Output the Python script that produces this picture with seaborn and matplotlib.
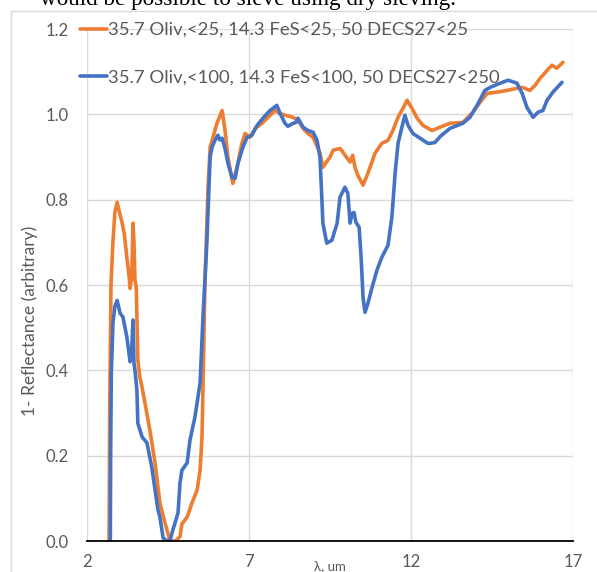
import numpy as np
import pandas as pd
import seaborn as sns
import matplotlib.pyplot as plt
from matplotlib.patches import Rectangle
from matplotlib.ticker import MultipleLocator, FixedLocator, FormatStrFormatter

# series
fine_label = '35.7 Oliv,<25, 14.3 FeS<25, 50 DECS27<25'
coarse_label = '35.7 Oliv,<100, 14.3 FeS<100, 50 DECS27<250'

fine_x = [2.68, 2.70, 2.74, 2.80, 2.86, 2.93, 3.00, 3.08, 3.15, 3.23, 3.30, 3.33, 3.38, 3.42,
          3.45, 3.48, 3.52, 3.57, 3.63, 3.70, 3.79, 3.94, 4.10, 4.25, 4.41, 4.56, 4.72, 4.87,
          4.93, 5.09, 5.24, 5.40, 5.49, 5.55, 5.58, 5.64, 5.70, 5.73, 5.80, 5.89, 6.01, 6.17,
          6.26, 6.35, 6.48, 6.50, 6.63, 6.78, 6.88, 7.03, 7.19, 7.40, 7.59, 7.80, 7.96, 8.11,
          8.36, 8.51, 8.67, 8.82, 8.98, 9.13, 9.19, 9.28, 9.50, 9.60, 9.81, 9.90, 10.12, 10.20,
          10.27, 10.36, 10.52, 10.67, 10.89, 11.10, 11.29, 11.44, 11.60, 11.75, 11.88, 12.03,
          12.19, 12.37, 12.65, 12.90, 13.20, 13.60, 13.91, 14.13, 14.35, 14.65, 14.96, 15.27,
          15.45, 15.67, 15.83, 15.98, 16.20, 16.35, 16.50, 16.69]
fine_y = [0.0, 0.30, 0.60, 0.70, 0.77, 0.794, 0.77, 0.747, 0.72, 0.665, 0.62, 0.592, 0.62, 0.745,
          0.70, 0.611, 0.595, 0.424, 0.384, 0.36, 0.323, 0.26, 0.183, 0.089, 0.042, 0.0, 0.0, 0.01,
          0.04, 0.056, 0.089, 0.12, 0.166, 0.244, 0.36, 0.604, 0.745, 0.82, 0.923, 0.946, 0.979, 1.009,
          0.962, 0.90, 0.845, 0.838, 0.876, 0.932, 0.955, 0.946, 0.967, 0.979, 0.993, 1.009, 1.002, 0.998,
          0.993, 0.986, 0.967, 0.955, 0.946, 0.92, 0.909, 0.876, 0.90, 0.916, 0.92, 0.911, 0.888, 0.904,
          0.876, 0.857, 0.834, 0.862, 0.909, 0.932, 0.939, 0.962, 0.993, 1.014, 1.033, 1.014,
          0.991, 0.974, 0.962, 0.970, 0.979, 0.981, 1.005, 1.028, 1.049, 1.052, 1.056, 1.061,
          1.063, 1.056, 1.068, 1.084, 1.103, 1.115, 1.108, 1.122]

coarse_x = [2.72, 2.73, 2.75, 2.80, 2.86, 2.93, 3.02, 3.11, 3.23, 3.33, 3.38, 3.42, 3.45, 3.48,
            3.54, 3.57, 3.70, 3.85, 4.00, 4.10, 4.19, 4.25, 4.35, 4.47, 4.56, 4.65, 4.81, 4.87,
            4.93, 5.09, 5.18, 5.33, 5.49, 5.58, 5.70, 5.75, 5.80, 5.86, 5.95, 6.04, 6.10, 6.17,
            6.26, 6.35, 6.48, 6.57, 6.66, 6.81, 6.94, 7.09, 7.25, 7.43, 7.65, 7.86, 7.96, 8.11,
            8.20, 8.36, 8.45, 8.51, 8.67, 8.82, 8.98, 9.10, 9.19, 9.25, 9.28, 9.40, 9.56, 9.72,
            9.81, 9.96, 10.05, 10.12, 10.18, 10.24, 10.30, 10.40, 10.46, 10.52, 10.58, 10.67,
            10.80, 10.95, 11.10, 11.29, 11.41, 11.51, 11.60, 11.72, 11.81, 11.91, 12.06, 12.28,
            12.52, 12.59, 12.74, 12.90, 13.20, 13.60, 13.82, 14.04, 14.28, 14.44, 14.75, 15.00,
            15.27, 15.43, 15.58, 15.77, 15.92, 16.07, 16.20, 16.38, 16.66]
coarse_y = [0.0, 0.20, 0.393, 0.51, 0.55, 0.564, 0.534, 0.525, 0.478, 0.42, 0.45, 0.518, 0.417, 0.40,
            0.354, 0.276, 0.244, 0.23, 0.173, 0.12, 0.073, 0.056, 0.007, 0.0, 0.0, 0.026, 0.066, 0.136,
            0.166, 0.183, 0.237, 0.29, 0.37, 0.525, 0.70, 0.80, 0.90, 0.923, 0.939, 0.951, 0.940, 0.944,
            0.92, 0.885, 0.852, 0.85, 0.885, 0.923, 0.946, 0.951, 0.974, 0.991, 1.009, 1.021, 1.002, 0.979,
            0.972, 0.979, 0.981, 0.991, 0.97, 0.962, 0.958, 0.939, 0.90, 0.80, 0.745, 0.698, 0.705, 0.745,
            0.806, 0.829, 0.815, 0.745, 0.768, 0.77, 0.747, 0.735, 0.665, 0.571, 0.536, 0.557,
            0.595, 0.635, 0.665, 0.693, 0.759, 0.862, 0.932, 0.97, 0.998, 0.974, 0.955, 0.944,
            0.932, 0.932, 0.934, 0.948, 0.967, 0.979, 0.993, 1.021, 1.056, 1.063, 1.073, 1.08,
            1.073, 1.049, 1.016, 0.993, 1.005, 1.009, 1.033, 1.052, 1.075]

x_ticks = [2, 7, 12, 17]
y_ticks = [0.0, 0.2, 0.4, 0.6, 0.8, 1.0, 1.2]

df = pd.concat([
    pd.DataFrame({'wl': fine_x, 'val': fine_y, 'sample': fine_label}),
    pd.DataFrame({'wl': coarse_x, 'val': coarse_y, 'sample': coarse_label}),
], ignore_index=True)

sns.set_style('white')
plt.rcParams['font.family'] = ['Lato', 'DejaVu Sans']

W, H = 597, 572
fig = plt.figure(figsize=(W / 100, H / 100), dpi=100)
ax = fig.add_axes([87 / W, 1 - 541 / H, 486 / W, 512 / H])

# page text above the chart (cut off at the top edge, as in the source page)
fig.text(40 / W, 1 - 5 / H, 'would be possible to sieve using dry sieving.',
         family='Liberation Serif', fontsize=16.7, color='black', va='baseline', ha='left')
# chart frame
fig.patches.append(Rectangle((10.5 / W, -0.1), 1.2, 1 - 10.5 / H + 0.1, transform=fig.transFigure,
                             fill=False, edgecolor='#D9D9D9', lw=1))

sns.lineplot(data=df, x='wl', y='val', hue='sample', hue_order=[fine_label, coarse_label],
             palette=['#ED7D31', '#4472C4'], sort=False, estimator=None, lw=2.6, ax=ax, zorder=3)

ax.set_xlim(2, 17)
ax.set_ylim(0, 1.2)
ax.xaxis.set_major_locator(FixedLocator(x_ticks))
ax.xaxis.set_minor_locator(MultipleLocator(1))
ax.yaxis.set_major_locator(FixedLocator(y_ticks))
ax.yaxis.set_major_formatter(FormatStrFormatter('%.1f'))

ax.grid(True, which='major', color='#D9D9D9', lw=1)
for s in ['top', 'right', 'left']:
    ax.spines[s].set_visible(False)
ax.spines['bottom'].set_color('black')
ax.spines['bottom'].set_linewidth(1.3)
ax.spines['bottom'].set_zorder(4)

ax.tick_params(axis='x', which='both', direction='inout', length=9, width=1.3, color='black',
               labelsize=12, labelcolor='#595959', pad=5)
ax.tick_params(axis='y', length=0, labelsize=12, labelcolor='#595959', pad=13)

ax.set_xlabel('λ, um', fontsize=9.5, color='#595959', va='top')
ax.xaxis.set_label_coords(0.5, -0.037)
ax.set_ylabel('1- Reflectance (arbitrary)', fontsize=12.5, color='#595959', va='center')
ax.yaxis.set_label_coords(-0.117, 0.43)

leg = ax.legend(loc='upper left', bbox_to_anchor=(80 / W, 1 - 22 / H), bbox_transform=fig.transFigure,
                frameon=False, fontsize=13.3, handlelength=1.45, handletextpad=0.05,
                labelspacing=1.7, borderpad=0, borderaxespad=0)
for t in leg.get_texts():
    t.set_color('#595959')
leg.set_zorder(5)

fig.savefig('out.png', dpi=100)
